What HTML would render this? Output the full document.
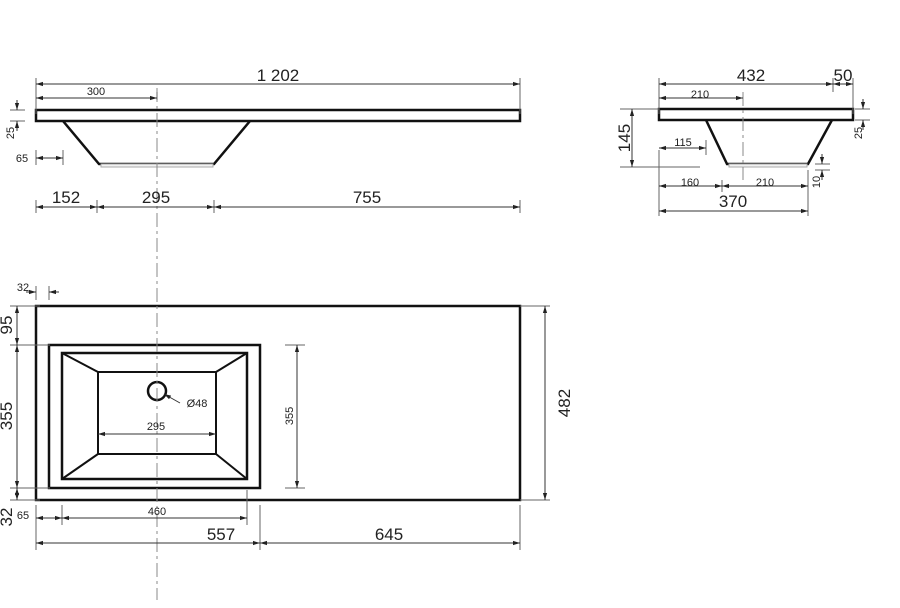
<!DOCTYPE html>
<html><head><style>html,body{margin:0;background:#fff}svg{display:block}text{font-family:"Liberation Sans",sans-serif;fill:#222}</style></head><body>
<svg width="900" height="608" viewBox="0 0 900 608" xmlns="http://www.w3.org/2000/svg">
<defs><marker id="a" viewBox="0 0 10 10" refX="10" refY="5" markerWidth="7" markerHeight="7" orient="auto-start-reverse"><path d="M0,2 L10,5 L0,8z" fill="#222"/></marker></defs>
<g stroke="#111" fill="none" stroke-width="2.5">
<rect x="36" y="110" width="484" height="11"/>
<path d="M63,121 L99,164 L214,164 L250,121"/>
<rect x="659" y="109" width="194" height="11"/>
<path d="M706,120 L727,164 L808,164 L832,120"/>
<rect x="36" y="306" width="484" height="194"/>
<rect x="49" y="345" width="211" height="143"/>
<rect x="62" y="353" width="185" height="126"/>
<rect x="98" y="372" width="118" height="82" stroke-width="2"/>
<path d="M62,353 L98,372 M247,353 L216,372 M62,479 L98,454 M247,479 L216,454" stroke-width="2"/>
<circle cx="157" cy="391" r="9" stroke-width="2.5"/>
</g>
<g stroke="#aaa" fill="#f2f2f2" stroke-width="1"><rect x="101" y="164" width="112" height="3"/><rect x="729" y="164" width="78" height="3"/></g>
<g stroke="#888" stroke-width="1" fill="none" stroke-dasharray="14,4,3,4"><path d="M157,88 V600"/><path d="M743,92 V180"/></g>
<g stroke="#666" stroke-width="1" fill="none">
<path d="M36,78V114M520,78V114M157,92V100M36,200V213M97,200V213M214,200V213M520,200V213M36,150V165M63,150V165M10,110H25M10,121H25"/>
<path d="M659,78V114M833,78V92M853,78V114M659,150V216M722,180V192M808,170V216M706,140V155M620,109H659M620,167H700M855,109H870M855,120H870M815,164H830M815,170H830"/>
<path d="M10,306H40M10,345H50M10,488H50M10,500H40M36,286V300M49,286V300M285,345H305M285,488H305M520,306H550M520,500H550M36,505V550M62,505V525M247,490V525M260,505V550M520,505V550"/>
</g>
<g stroke="#333" stroke-width="1" fill="none" marker-start="url(#a)" marker-end="url(#a)">
<path d="M36,84H520"/><path d="M36,98H157" marker-start="url(#a)"/>
<path d="M36,207H97"/><path d="M97,207H214"/><path d="M214,207H520"/>
<path d="M36,158H63"/><path d="M17,100V110" marker-start="none"/><path d="M17,131V121" marker-start="none"/>
<path d="M659,84H833"/><path d="M833,84H853"/><path d="M659,98H743"/><path d="M632,109V167"/><path d="M659,148H706"/>
<path d="M659,186H722"/><path d="M722,186H808"/><path d="M659,211H808"/>
<path d="M863,99V109" marker-start="none"/><path d="M863,130V120" marker-start="none"/><path d="M822,154V164" marker-start="none"/><path d="M822,180V170" marker-start="none"/>
<path d="M17,306V345"/><path d="M17,345V488"/><path d="M17,488V500"/>
<path d="M297,345V488"/><path d="M545,306V500"/><path d="M98,434H216"/>
<path d="M36,518H62"/><path d="M62,518H247"/><path d="M36,543H260"/><path d="M260,543H520"/>
<path d="M26,292H36" marker-start="none"/><path d="M59,292H49" marker-start="none"/>
<path d="M180,403L164,394" marker-start="none"/>
</g>
<g font-size="17" text-anchor="middle">
<text x="278" y="81">1 202</text><text x="66" y="203">152</text><text x="156" y="203">295</text><text x="367" y="203">755</text>
<text x="751" y="81">432</text><text x="843" y="81">50</text><text x="733" y="207">370</text>
<text x="221" y="540">557</text><text x="389" y="540">645</text>
<text transform="translate(630,138) rotate(-90)">145</text>
<text transform="translate(12,325) rotate(-90)">95</text>
<text transform="translate(12,416) rotate(-90)">355</text>
<text transform="translate(12,517) rotate(-90)">32</text>
<text transform="translate(570,403) rotate(-90)">482</text>
</g>
<g font-size="11" text-anchor="middle">
<text x="96" y="95">300</text><text x="22" y="162">65</text><text x="700" y="98">210</text><text x="683" y="146">115</text>
<text x="690" y="186">160</text><text x="765" y="186">210</text><text x="156" y="430">295</text><text x="157" y="515">460</text>
<text x="23" y="291">32</text><text x="23" y="519">65</text><text x="197" y="407">Ø48</text>
<text transform="translate(14,133) rotate(-90)">25</text>
<text transform="translate(862,133) rotate(-90)">25</text>
<text transform="translate(820,182) rotate(-90)">10</text>
<text transform="translate(293,416) rotate(-90)">355</text>
</g>
</svg>
</body></html>
